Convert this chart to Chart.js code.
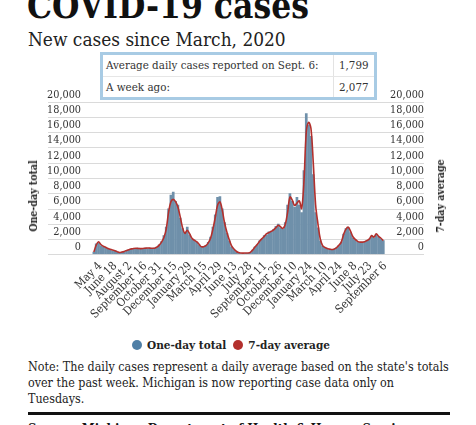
<!DOCTYPE html>
<html>
<head>
<meta charset="utf-8">
<script src="https://cdn.jsdelivr.net/npm/chart.js@4.4.1/dist/chart.umd.min.js"></script>
<style>
  html, body { margin: 0; padding: 0; background: #fff; }
  body { width: 476px; height: 425px; position: relative; overflow: hidden;
         font-family: 'DejaVu Serif Condensed', 'DejaVu Serif', serif; color: #222; }
  #title { position: absolute; left: 27px; top: -12.5px; font-size: 35px; font-weight: bold;
           line-height: 35px; color: #111; white-space: nowrap; }
  #subtitle { position: absolute; left: 28px; top: 29.5px; font-size: 18.9px; line-height: 18.9px;
              color: #222; white-space: nowrap; }
  #box { position: absolute; left: 100px; top: 52px; width: 277px; height: 48px; box-sizing: border-box;
         border: 3px solid #a8cbe4; background: #fff; z-index: 5; }
  #box table { border-collapse: collapse; width: 100%; height: 100%; color: #333; }
  #box td { padding: 0 0 0 3px; white-space: nowrap; font-size: 11.5px; }
  #box td.v { border-left: 1px solid #e3e3e3; padding-left: 5px; }
  #box tr.r1 td { border-bottom: 1px solid #e6e6e6; }
  #wrap { position: absolute; left: 0; top: 80px; width: 476px; height: 250px; }
  .axt { position: absolute; font-size: 10.5px; font-weight: bold; color: #222; white-space: nowrap;
         transform: translate(-50%, -50%) rotate(-90deg); }
  #legend { position: absolute; left: 132px; top: 338px; display: flex; align-items: center;
            font-size: 11.7px; font-weight: bold; color: #222; white-space: nowrap; }
  #legend .dot { width: 10px; height: 10px; border-radius: 50%; display: inline-block; margin-right: 5px; }
  #legend .item { display: flex; align-items: center; margin-right: 7px; }
  #note { position: absolute; left: 28px; top: 359px; width: 421px; font-size: 12.4px; line-height: 16px; color: #222; }
  #rule { position: absolute; left: 28px; top: 412px; width: 422px; height: 2.5px; background: #111; }
  #source { position: absolute; left: 28px; top: 421px; font-size: 13px; font-weight: bold; color: #111; white-space: nowrap; }
</style>
</head>
<body>
<div id="title">COVID-19 cases</div>
<div id="subtitle">New cases since March, 2020</div>
<div id="box">
  <table>
    <tr class="r1"><td style="width:227px">Average daily cases reported on Sept. 6:</td><td class="v">1,799</td></tr>
    <tr><td>A week ago:</td><td class="v">2,077</td></tr>
  </table>
</div>
<div id="wrap"><canvas id="covidChart" width="476" height="250"></canvas></div>
<div class="axt" style="left:33px; top:196px;">One-day total</div>
<div class="axt" style="left:440px; top:196px;">7-day average</div>
<div id="legend">
  <span class="item"><span class="dot" style="background:#4f7fa6"></span>One-day total</span>
  <span class="item"><span class="dot" style="background:#b3302d"></span>7-day average</span>
</div>
<div id="note">Note: The daily cases represent a daily average based on the state's totals over the past week. Michigan is now reporting case data only on Tuesdays.</div>
<div id="rule"></div>
<div id="source">Source: Michigan Department of Health &amp; Human Services</div>

<script>
// weekly values, first week starts 2020-04-15
const firstDay = Date.UTC(2020, 3, 15);
const oneDay = [350, 1400, 1500, 1200, 1000, 950, 700, 700, 500, 500,
    300, 250, 300, 400, 550, 600, 750, 800, 750, 850,
    700, 800, 850, 800, 850, 750, 850, 1000, 1300, 1700,
    2500, 3600, 6000, 7800, 8200, 7000, 6500, 4800, 3400, 2900,
    3600, 2600, 2000, 1900, 1600, 1300, 950, 1000, 1200, 1600,
    2300, 3600, 5200, 7500, 7600, 6000, 4200, 2800, 1800, 1000,
    650, 380, 200, 150, 150, 170, 180, 280, 600, 1000,
    1300, 1800, 2000, 2500, 2600, 3000, 3100, 3300, 3700, 4000,
    3500, 3300, 4200, 6500, 8000, 7000, 6200, 7500, 6500, 5500,
    11000, 18500, 17000, 15500, 10500, 5500, 3500, 1800, 1100, 900,
    700, 650, 600, 700, 900, 1200, 1650, 2700, 3400, 3500,
    2900, 2200, 1900, 1650, 1550, 1600, 1700, 1800, 2050, 2400,
    2200, 2650, 2300, 2050, 1850];
const sevenDay = [300, 1200, 1650, 1280, 1060, 920, 760, 650, 560, 480,
    350, 230, 290, 380, 500, 610, 700, 770, 790, 770,
    750, 760, 800, 830, 810, 790, 800, 940, 1200, 1600,
    2200, 3300, 5500, 6900, 7200, 6900, 6200, 4900, 3500, 2750,
    3150, 2700, 2100, 1850, 1650, 1350, 1000, 1000, 1150, 1500,
    2100, 3300, 4800, 6430, 6870, 5800, 4100, 2900, 1900, 1100,
    700, 400, 220, 170, 160, 170, 170, 250, 550, 950,
    1300, 1700, 2050, 2350, 2700, 2850, 3000, 3200, 3500, 3800,
    3600, 3400, 3900, 5500, 7500, 7100, 6400, 6700, 7000, 6000,
    9500, 16000, 17300, 16500, 12000, 6500, 4000, 2000, 1150, 900,
    750, 680, 620, 700, 880, 1200, 1600, 2600, 3300, 3550,
    3000, 2300, 1950, 1700, 1600, 1600, 1650, 1800, 2000, 2450,
    2250, 2700, 2350, 2100, 1800];
const tickDates = ['2020-05-04', '2020-06-18', '2020-08-02', '2020-09-16', '2020-10-31',
    '2020-12-15', '2021-01-29', '2021-03-15', '2021-04-29', '2021-06-13',
    '2021-07-28', '2021-09-11', '2021-10-26', '2021-12-10', '2022-01-24',
    '2022-03-10', '2022-04-24', '2022-06-08', '2022-07-23', '2022-09-06'];
const tickLabels = ['May 4', 'June 18', 'August 2', 'September 16', 'October 31',
    'December 15', 'January 29', 'March 15', 'April 29', 'June 13',
    'July 28', 'September 11', 'October 26', 'December 10', 'January 24',
    'March 10', 'April 24', 'June 8', 'July 23', 'September 6'];
const yTicks = [0, 2000, 4000, 6000, 8000, 10000, 12000, 14000, 16000, 18000, 20000];

const dayOf = s => (Date.parse(s + 'T00:00:00Z') - firstDay) / 86400000;
const tickDays = tickDates.map(dayOf);

const font = "'DejaVu Serif Condensed', 'DejaVu Serif', serif";
const tickFont = { family: font, size: 10.8 };

const fullGrid = {
    id: 'fullGrid',
    beforeDatasetsDraw(chart) {
        const { ctx, scales: { y } } = chart;
        ctx.save();
        ctx.strokeStyle = '#dadada';
        ctx.lineWidth = 1;
        for (let t of y.ticks) {
            const py = Math.round(y.getPixelForValue(t.value)) + 0.5;
            ctx.beginPath();
            ctx.moveTo(48, py);
            ctx.lineTo(424, py);
            ctx.stroke();
        }
        ctx.restore();
    }
};

const ctx = document.getElementById('covidChart').getContext('2d');
const covidChart = new Chart(ctx, {
    type: 'bar',
    data: {
        datasets: [{
            type: 'line',
            label: '7-day average',
            data: sevenDay.map((v, i) => ({ x: i * 7, y: v })),
            borderColor: '#b3302d',
            borderWidth: 1.6,
            pointRadius: 0,
            tension: 0.35,
            fill: false,
            order: 0
        }, {
            type: 'bar',
            label: 'One-day total',
            data: oneDay.map((v, i) => ({ x: i * 7, y: v })),
            backgroundColor: '#6f90aa',
            borderWidth: 0,
            barPercentage: 1.15,
            categoryPercentage: 1,
            order: 1
        }]
    },
    options: {
        responsive: false,
        animation: false,
        layout: { padding: { left: 20, right: 52, top: 21.7, bottom: 0 } },
        plugins: {
            legend: { display: false },
            tooltip: { enabled: false }
        },
        scales: {
            x: {
                type: 'linear',
                min: -3.5,
                max: tickDays[tickDays.length - 1],
                grid: { display: false, drawTicks: false },
                border: { display: false },
                afterBuildTicks: s => { s.ticks = tickDays.map(v => ({ value: v })); },
                afterFit: s => { s.height = 75.7; },
                ticks: {
                    autoSkip: false,
                    minRotation: 45,
                    maxRotation: 45,
                    padding: 5,
                    color: '#333',
                    font: { family: font, size: 11.5 },
                    callback: (v, i) => tickLabels[i]
                }
            },
            y: {
                position: 'left',
                min: 0,
                max: 20000,
                grid: { display: false, drawTicks: false },
                border: { display: false },
                afterBuildTicks: s => { s.ticks = yTicks.map(v => ({ value: v })); },
                afterFit: s => { s.width = 65; },
                ticks: {
                    autoSkip: false,
                    padding: 4,
                    labelOffset: -7,
                    color: '#333',
                    font: tickFont,
                    callback: v => v.toLocaleString('en-US')
                }
            },
            y1: {
                position: 'right',
                min: 0,
                max: 20000,
                grid: { display: false, drawTicks: false },
                border: { display: false },
                afterBuildTicks: s => { s.ticks = yTicks.map(v => ({ value: v })); },
                afterFit: s => { s.width = 31; s.paddingTop = 0; s.paddingBottom = 0; },
                ticks: {
                    autoSkip: false,
                    mirror: true,
                    padding: 31,
                    labelOffset: -7,
                    color: '#333',
                    font: tickFont,
                    callback: v => v.toLocaleString('en-US')
                }
            }
        }
    },
    plugins: [fullGrid]
});
</script>
</body>
</html>
